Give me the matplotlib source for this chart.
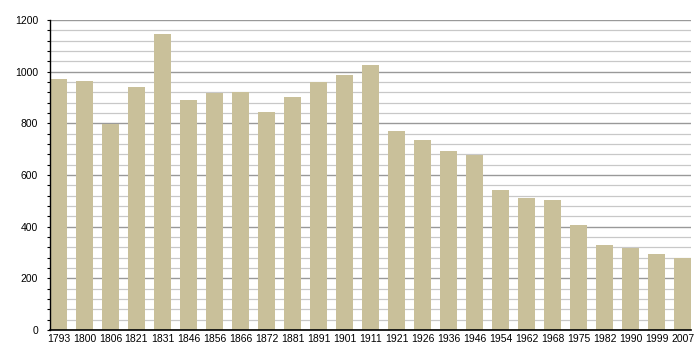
import matplotlib
matplotlib.use("Agg")
import matplotlib.pyplot as plt
from matplotlib.ticker import MultipleLocator

years = ["1793", "1800", "1806", "1821", "1831", "1846", "1856", "1866", "1872",
         "1881", "1891", "1901", "1911", "1921", "1926", "1936", "1946", "1954",
         "1962", "1968", "1975", "1982", "1990", "1999", "2007"]
population = [972, 964, 796, 941, 1146, 890, 917, 921, 844,
              902, 960, 987, 1026, 770, 735, 693, 677, 542,
              511, 503, 406, 329, 317, 294, 277]

plt.rcParams['font.family'] = ['Liberation Sans', 'DejaVu Sans']

fig = plt.figure(figsize=(7, 3.6), dpi=100)
ax = fig.add_axes([50/700, 30/360, 641/700, 310/360])

w = 0.645
x = list(range(len(years)))
ax.bar(x, population, width=w, color="#c9c09a", zorder=3)

ax.set_xlim(-w/2, len(years) - 1 + w/2)
ax.set_ylim(0, 1200)
ax.yaxis.set_major_locator(MultipleLocator(200))
ax.yaxis.set_minor_locator(MultipleLocator(40))
ax.grid(which='major', axis='y', color='#999999', linewidth=1.0, zorder=1)
ax.grid(which='minor', axis='y', color='#c8c8c8', linewidth=0.9, zorder=1)
ax.set_axisbelow(True)

ax.set_xticks(x)
ax.set_xticklabels(years, fontsize=7.5)
ax.tick_params(axis='x', length=0, pad=3)
ax.tick_params(axis='y', which='major', length=2.5, width=0.8, labelsize=7.5, pad=6)
ax.tick_params(axis='y', which='minor', length=2, width=0.8)

for s in ['top', 'right']:
    ax.spines[s].set_visible(False)
ax.spines['left'].set_color('black')
ax.spines['bottom'].set_color('black')
ax.spines['left'].set_linewidth(1.0)
ax.spines['bottom'].set_linewidth(1.2)
ax.spines['left'].set_zorder(4)
ax.spines['bottom'].set_zorder(4)

fig.savefig("out.png", dpi=100)
